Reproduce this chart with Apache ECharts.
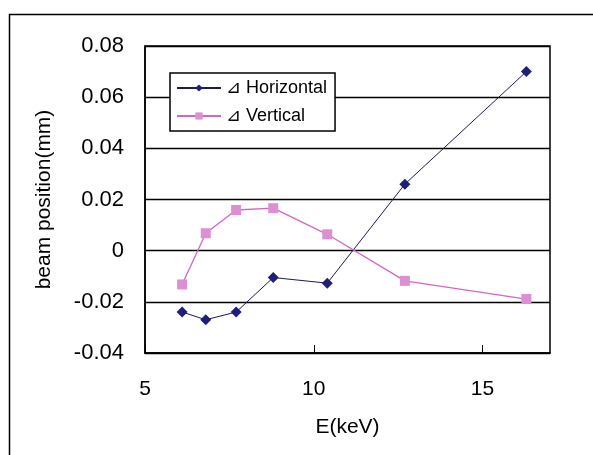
<!DOCTYPE html>
<html>
<head>
<meta charset="utf-8">
<script src="https://cdn.jsdelivr.net/npm/echarts@6/dist/echarts.min.js"></script>
<style>
  html, body { margin: 0; padding: 0; background: #fff; }
  #main { width: 593px; height: 455px; }
</style>
</head>
<body>
<div id="main"></div>
<script>
// energies (keV)
var energy = [6.1, 6.8, 7.7, 8.8, 10.4, 12.7, 16.3];
// beam position change (mm)
var horizontal = [-0.024, -0.027, -0.024, -0.0105, -0.0127, 0.026, 0.070];
var vertical = [-0.0132, 0.0068, 0.0159, 0.0166, 0.0064, -0.0118, -0.0189];
var yTicks = [-0.04, -0.02, 0, 0.02, 0.04, 0.06, 0.08];

var font = "'Liberation Sans', Arial, sans-serif";

function pairs(xs, ys) {
  return xs.map(function (x, i) { return [x, ys[i]]; });
}

var chart = echarts.init(document.getElementById('main'));

var option = {
  animation: false,
  backgroundColor: '#fff',
  graphic: [{
    type: 'rect',
    shape: { x: 9.5, y: 14.5, width: 700, height: 600 },
    style: { fill: 'none', stroke: '#000', lineWidth: 1.5 },
    silent: true
  }],
  grid: {
    left: 145,
    right: 43,
    top: 46,
    bottom: 102,
    show: true,
    borderColor: '#000',
    borderWidth: 1.5
  },
  legend: {
    orient: 'vertical',
    left: 170,
    top: 73,
    itemWidth: 44,
    itemHeight: 9,
    itemGap: 10,
    padding: [6, 8, 6, 6],
    borderColor: '#000',
    borderWidth: 1.5,
    backgroundColor: '#fff',
    textStyle: { fontFamily: font, fontSize: 18, color: '#000' },
    data: ['⊿ Horizontal', '⊿ Vertical']
  },
  xAxis: {
    type: 'value',
    min: 5,
    max: 17,
    interval: 5,
    name: 'E(keV)',
    nameLocation: 'middle',
    nameGap: 64,
    nameTextStyle: { fontFamily: font, fontSize: 21, color: '#000' },
    axisLine: { onZero: false, lineStyle: { color: '#000', width: 1.5 } },
    axisTick: { inside: true, length: 8, lineStyle: { color: '#000' } },
    axisLabel: {
      margin: 26,
      fontFamily: font,
      fontSize: 21,
      color: '#000',
      showMaxLabel: false,
      formatter: function (v) { return v % 5 === 0 ? String(v) : ''; }
    },
    splitLine: { show: false }
  },
  yAxis: {
    type: 'value',
    min: yTicks[0],
    max: yTicks[yTicks.length - 1],
    interval: 0.02,
    name: 'beam position(mm)',
    nameLocation: 'middle',
    nameGap: 90,
    nameTextStyle: { fontFamily: font, fontSize: 21, color: '#000' },
    axisLine: { lineStyle: { color: '#000', width: 1.5 } },
    axisTick: { show: false },
    axisLabel: {
      margin: 21,
      fontFamily: font,
      fontSize: 22,
      color: '#000',
      formatter: function (v) {
        if (Math.abs(v) < 1e-9) return '0';
        return v.toFixed(2);
      }
    },
    splitLine: { show: true, lineStyle: { color: '#000', width: 1.3 } }
  },
  series: [{
    name: '⊿ Horizontal',
    type: 'line',
    data: pairs(energy, horizontal),
    symbol: 'diamond',
    symbolSize: 11,
    lineStyle: { color: '#1c1c50', width: 1 },
    itemStyle: { color: '#1f1f7a' }
  }, {
    name: '⊿ Vertical',
    type: 'line',
    data: pairs(energy, vertical),
    symbol: 'rect',
    symbolSize: 10,
    lineStyle: { color: '#d365c4', width: 1.3 },
    itemStyle: { color: '#dc8fd2' }
  }]
};

chart.setOption(option);
</script>
</body>
</html>
